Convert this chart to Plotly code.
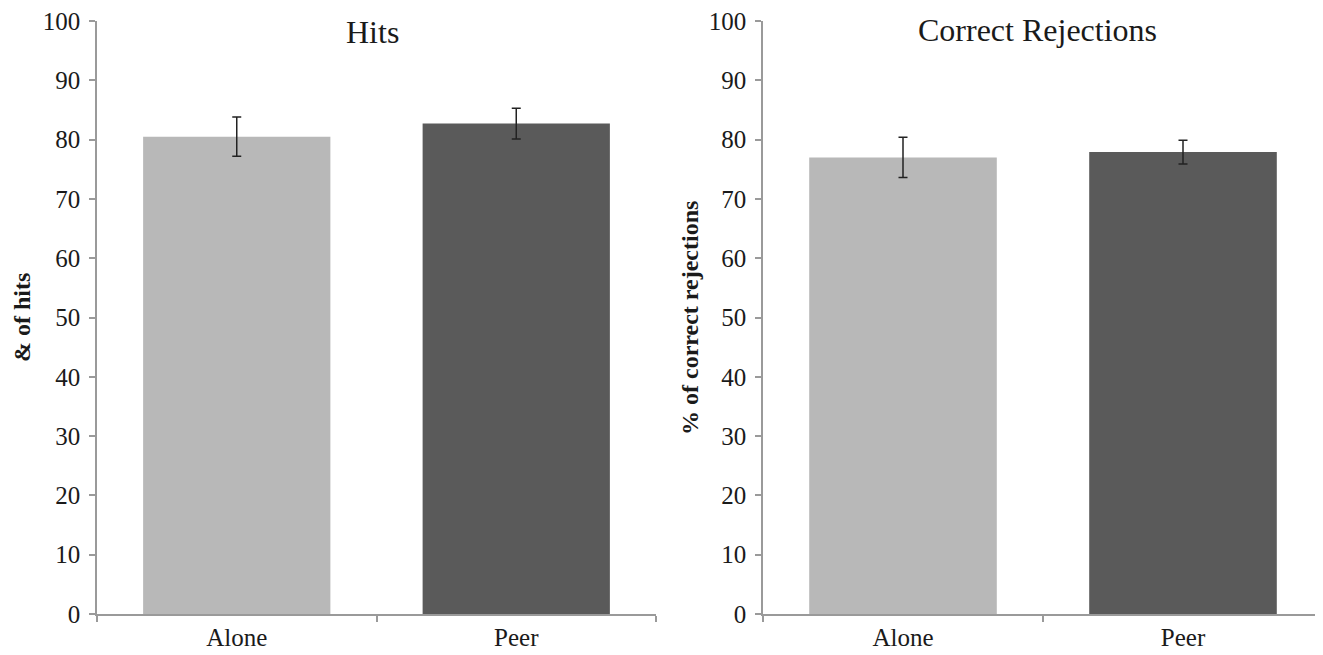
import plotly.graph_objects as go

categories = ["Alone", "Peer"]
hits_values = [80.5, 82.7]
hits_err = [3.3, 2.6]
cr_values = [77.0, 77.9]
cr_err = [3.4, 2.0]
bar_colors = ["#b8b8b8", "#5a5a5a"]
y_ticks = list(range(0, 101, 10))

W, H = 1315, 647
OFF = 8  # page body offset
FONT = "Liberation Serif, Times New Roman, serif"


def px_x(v):
    return (v - OFF) / W


def px_y(v):
    return 1 - (v - OFF) / H


fig = go.Figure()
fig.add_trace(go.Bar(
    x=categories, y=hits_values, marker=dict(color=bar_colors, line=dict(width=0)),
    error_y=dict(type="data", array=hits_err, color="#222222", thickness=1.5, width=4.5),
    xaxis="x", yaxis="y", showlegend=False))
fig.add_trace(go.Bar(
    x=categories, y=cr_values, marker=dict(color=bar_colors, line=dict(width=0)),
    error_y=dict(type="data", array=cr_err, color="#222222", thickness=1.5, width=4.5),
    xaxis="x2", yaxis="y2", showlegend=False))

ytop = px_y(21)
ybot = px_y(614)

axis_common = dict(showline=True, linecolor="#9a9a9a", linewidth=1.5, ticks="outside",
                   tickcolor="#9a9a9a", ticklen=6, tickwidth=1.5, showgrid=False, zeroline=False,
                   tickfont=dict(family=FONT, size=25, color="#1a1a1a"), automargin=False,
                   ticklabeloverflow="allow")
yaxis_extra = dict(range=[0, 100], tickvals=y_ticks, ticklabelstandoff=4)

fig.update_layout(
    width=W, height=H, margin=dict(l=0, r=0, t=0, b=0),
    paper_bgcolor="white", plot_bgcolor="white", bargap=0.33,
    font=dict(family=FONT, color="#1a1a1a"),
    xaxis=dict(domain=[px_x(97), px_x(656)], anchor="y", tickson="boundaries", **axis_common),
    yaxis=dict(domain=[ybot, ytop], anchor="x", **yaxis_extra, **axis_common),
    xaxis2=dict(domain=[px_x(763), 1.0], anchor="y2", tickson="boundaries", **axis_common),
    yaxis2=dict(domain=[ybot, ytop], anchor="x2", **yaxis_extra, **axis_common),
    annotations=[
        dict(text="Hits", x=px_x(372), y=px_y(32), xref="paper", yref="paper", showarrow=False,
             xanchor="center", yanchor="middle",
             font=dict(family=FONT, size=32, color="#1a1a1a")),
        dict(text="Correct Rejections", x=px_x(1037), y=px_y(30), xref="paper", yref="paper",
             showarrow=False, xanchor="center", yanchor="middle",
             font=dict(family=FONT, size=32, color="#1a1a1a")),
        dict(text="<b>& of hits</b>", x=px_x(22), y=px_y(318), xref="paper", yref="paper",
             showarrow=False, xanchor="center", yanchor="middle",
             textangle=-90, font=dict(family=FONT, size=24, color="#1a1a1a")),
        dict(text="<b>% of correct rejections</b>", x=px_x(690), y=px_y(318), xref="paper",
             yref="paper", showarrow=False, xanchor="center", yanchor="middle",
             textangle=-90, font=dict(family=FONT, size=24, color="#1a1a1a")),
    ],
)

fig.write_html("out.html")
